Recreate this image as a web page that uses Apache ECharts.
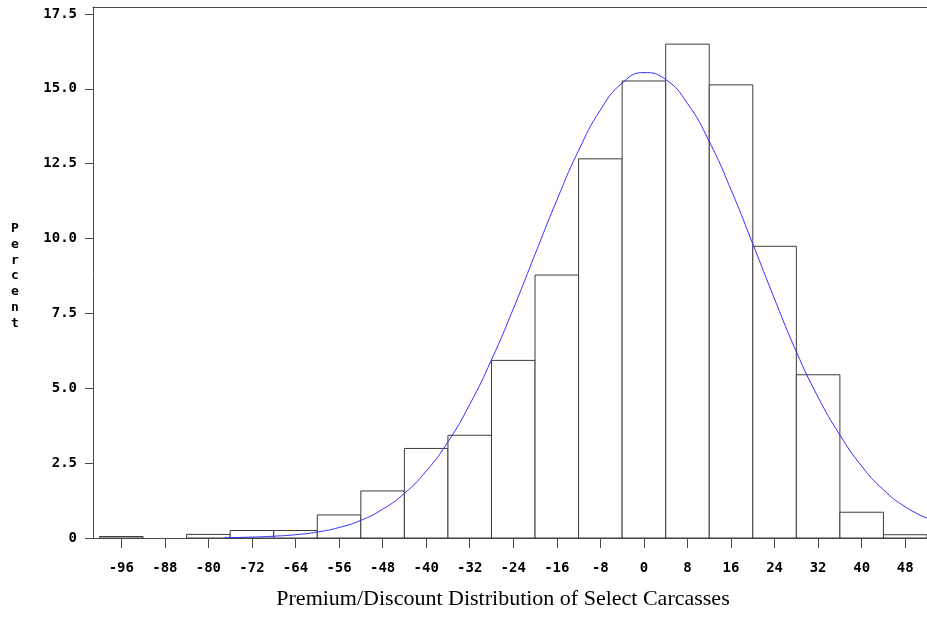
<!DOCTYPE html>
<html>
<head>
<meta charset="utf-8">
<script src="https://cdn.jsdelivr.net/npm/echarts@6/dist/echarts.min.js"></script>
<style>
html,body{margin:0;padding:0;background:#fff;}
#chart{width:927px;height:623px;}
</style>
</head>
<body>
<div id="chart"></div>
<script>
// Histogram bin midpoints and percent of carcasses
const binMids = [-96, -88, -80, -72, -64, -56, -48, -40, -32, -24, -16, -8, 0, 8, 16, 24, 32, 40, 48];
const percents = [0.05, 0, 0.12, 0.25, 0.25, 0.77, 1.57, 2.99, 3.43, 5.93, 8.78, 12.66, 15.26, 16.49, 15.13, 9.74, 5.45, 0.86, 0.11];
const binWidth = 8;

// Fitted normal curve
const curveX = [-77, -72, -68, -64, -60, -56, -52, -48, -44, -40, -36, -32, -28, -24, -20, -16, -12, -8, -4, 0, 4, 8, 12, 16, 20, 24, 28, 32, 36, 40, 44, 48, 52];
const curveY = [0.01, 0.03, 0.06, 0.11, 0.20, 0.35, 0.59, 0.96, 1.49, 2.23, 3.21, 4.46, 5.95, 7.65, 9.47, 11.28, 12.94, 14.29, 15.19, 15.54, 15.31, 14.51, 13.24, 11.63, 9.82, 7.98, 6.22, 4.70, 3.44, 2.40, 1.61, 1.04, 0.66];

// Tick labels
const xTicks = [-96, -88, -80, -72, -64, -56, -48, -40, -32, -24, -16, -8, 0, 8, 16, 24, 32, 40, 48];
const yTicks = [0, 2.5, 5, 7.5, 10, 12.5, 15, 17.5];

const xTitle = 'Premium/Discount Distribution of Select Carcasses';
const yTitle = 'Percent';

const chart = echarts.init(document.getElementById('chart'), null, {renderer: 'canvas'});
const axisColor = '#4a4a4a';
const labelFont = {fontFamily: 'DejaVu Sans Mono', fontWeight: 'bold', fontSize: 14, color: '#000'};

const histData = binMids.map((m, i) => [m, percents[i]]);
const curveData = curveX.map((x, i) => [x, curveY[i]]);

const option = {
  animation: false,
  backgroundColor: '#fff',
  grid: {left: 93, top: 7, right: 0, bottom: 85, containLabel: false},
  xAxis: [{
    type: 'value', min: -101.2, max: 52,
    axisLine: {show: true, onZero: false, lineStyle: {color: axisColor, width: 1}},
    axisTick: {show: true, length: 10, inside: false, customValues: xTicks, lineStyle: {color: axisColor}},
    axisLabel: Object.assign({margin: 23, customValues: xTicks}, labelFont),
    splitLine: {show: false}
  }, {
    type: 'value', min: -101.2, max: 52, position: 'top',
    axisLine: {show: true, onZero: false, lineStyle: {color: axisColor, width: 1}},
    axisTick: {show: false}, axisLabel: {show: false}, splitLine: {show: false}
  }],
  yAxis: {
    type: 'value', min: 0, max: 17.73, position: 'left',
    axisLine: {show: true, onZero: false, lineStyle: {color: axisColor, width: 1}},
    axisTick: {show: true, length: 8, customValues: yTicks, lineStyle: {color: axisColor}},
    axisLabel: Object.assign({margin: 16, customValues: yTicks,
      formatter: v => (v === 0 ? '0' : Number(v).toFixed(1))}, labelFont),
    splitLine: {show: false}
  },
  graphic: [{
    type: 'text', x: 15, y: 276,
    style: {
      text: yTitle.split('').join('\n'),
      fontFamily: 'DejaVu Sans Mono', fontWeight: 'bold', fontSize: 13, lineHeight: 15.8,
      fill: '#000', align: 'center', verticalAlign: 'middle', textAlign: 'center', textVerticalAlign: 'middle'
    }
  }, {
    type: 'text', x: 503, y: 599,
    style: {
      text: xTitle,
      fontFamily: 'Liberation Serif', fontSize: 22, fill: '#000',
      align: 'center', verticalAlign: 'middle', textAlign: 'center', textVerticalAlign: 'middle'
    }
  }],
  series: [{
    type: 'custom',
    xAxisIndex: 0, yAxisIndex: 0,
    data: histData,
    encode: {x: 0, y: 1},
    z: 2,
    renderItem: function (params, api) {
      const mid = api.value(0), v = api.value(1);
      if (!v) return null;
      const p0 = api.coord([mid - binWidth / 2, v]);
      const p1 = api.coord([mid + binWidth / 2, 0]);
      return {
        type: 'rect',
        shape: {x: p0[0], y: p0[1], width: p1[0] - p0[0], height: p1[1] - p0[1]},
        style: {fill: '#fff', stroke: '#3c3c3c', lineWidth: 1}
      };
    }
  }, {
    type: 'line',
    xAxisIndex: 0, yAxisIndex: 0,
    data: curveData,
    smooth: true,
    showSymbol: false,
    symbol: 'none',
    z: 5,
    lineStyle: {color: '#3030ff', width: 1}
  }]
};
chart.setOption(option);
</script>
</body>
</html>
